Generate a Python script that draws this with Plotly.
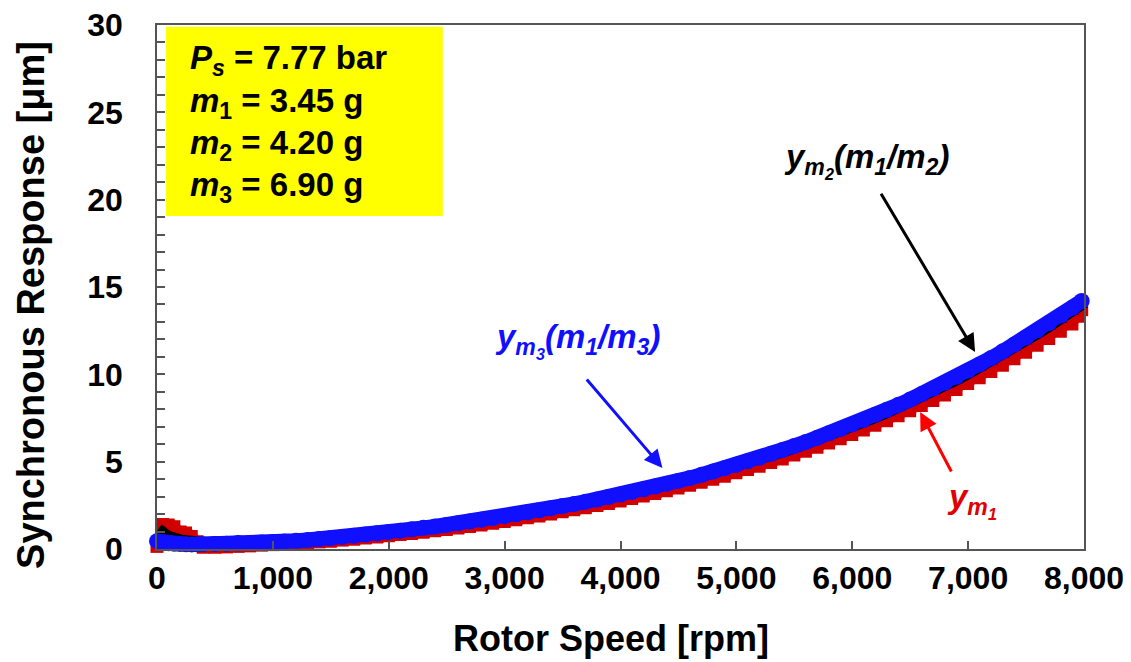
import plotly.graph_objects as go

# ---------------- data ----------------
speed = [0, 50, 100, 150, 200, 250, 300, 350, 400,
         500, 600, 700, 800, 900, 1000, 1100, 1200, 1300, 1400, 1500,
         1600, 1700, 1800, 1900, 2000, 2100, 2200, 2300, 2400, 2500,
         2600, 2700, 2800, 2900, 3000, 3100, 3200, 3300, 3400, 3500,
         3600, 3700, 3800, 3900, 4000, 4100, 4200, 4300, 4400, 4500,
         4600, 4700, 4800, 4900, 5000, 5100, 5200, 5300, 5400, 5500,
         5600, 5700, 5800, 5900, 6000, 6100, 6200, 6300, 6400, 6500,
         6600, 6700, 6800, 6900, 7000, 7100, 7200, 7300, 7400, 7500,
         7600, 7700, 7800, 7900, 7980]

y_m1 = [0.15, 1.4, 1.3, 1.0, 0.95, 0.75, 0.45, 0.2, 0.1,
        0.1, 0.12, 0.15, 0.18, 0.22, 0.25, 0.3, 0.33, 0.38, 0.42, 0.48,
        0.53, 0.6, 0.66, 0.73, 0.8, 0.86, 0.93, 1.01, 1.09, 1.17,
        1.26, 1.35, 1.45, 1.55, 1.65, 1.76, 1.86, 1.98, 2.1, 2.22,
        2.33, 2.46, 2.58, 2.72, 2.86, 3.0, 3.15, 3.3, 3.46, 3.62,
        3.79, 3.96, 4.14, 4.33, 4.52, 4.71, 4.92, 5.13, 5.35, 5.57,
        5.8, 6.04, 6.28, 6.53, 6.79, 7.05, 7.32, 7.6, 7.89, 8.18,
        8.48, 8.79, 9.11, 9.44, 9.78, 10.13, 10.49, 10.86, 11.24, 11.63,
        12.03, 12.44, 12.86, 13.29, 13.7]

y_m2_scaled = [0.5, 1.0, 0.75, 0.6, 0.55, 0.5, 0.45, 0.42, 0.4,
               0.45, 0.4, 0.5, 0.42, 0.5, 0.48, 0.5, 0.55, 0.6, 0.62, 0.7,
               0.75, 0.8, 0.88, 0.95, 1.05, 1.1, 1.2, 1.25, 1.35, 1.42,
               1.5, 1.6, 1.7, 1.8, 1.9, 2.0, 2.12, 2.22, 2.33, 2.45,
               2.56, 2.68, 2.8, 2.93, 3.07, 3.2, 3.35, 3.5, 3.66, 3.82,
               3.98, 4.15, 4.33, 4.52, 4.71, 4.9, 5.1, 5.31, 5.53, 5.75,
               5.98, 6.21, 6.46, 6.71, 6.96, 7.23, 7.5, 7.78, 8.07, 8.37,
               8.68, 8.99, 9.32, 9.65, 10.0, 10.36, 10.72, 11.1, 11.49, 11.88,
               12.29, 12.7, 13.13, 13.57, 13.95]

y_m3_scaled = [0.45, 0.38, 0.33, 0.3, 0.28, 0.27, 0.26, 0.26, 0.27,
               0.28, 0.3, 0.32, 0.34, 0.37, 0.4, 0.43, 0.47, 0.52, 0.57, 0.63,
               0.69, 0.76, 0.83, 0.9, 0.98, 1.05, 1.13, 1.21, 1.29, 1.38,
               1.47, 1.57, 1.67, 1.77, 1.88, 1.99, 2.1, 2.22, 2.34, 2.46,
               2.58, 2.71, 2.84, 2.98, 3.12, 3.27, 3.42, 3.58, 3.74, 3.9,
               4.07, 4.25, 4.43, 4.62, 4.82, 5.02, 5.23, 5.45, 5.67, 5.9,
               6.13, 6.37, 6.62, 6.87, 7.13, 7.4, 7.68, 7.97, 8.26, 8.56,
               8.87, 9.19, 9.52, 9.86, 10.21, 10.57, 10.94, 11.32, 11.71, 12.11,
               12.52, 12.94, 13.37, 13.81, 14.2]

x_ticks = [0, 1000, 2000, 3000, 4000, 5000, 6000, 7000, 8000]
x_tick_text = ["0", "1,000", "2,000", "3,000", "4,000", "5,000", "6,000", "7,000", "8,000"]
y_ticks = [0, 5, 10, 15, 20, 25, 30]

info_lines = [
    "<i>P<sub>s</sub></i> = 7.77 bar",
    "<i>m</i><sub>1</sub> = 3.45 g",
    "<i>m</i><sub>2</sub> = 4.20 g",
    "<i>m</i><sub>3</sub> = 6.90 g",
]

FONT = "Arial, 'Liberation Sans', sans-serif"
AX = "#555555"
RED = "#d00000"
BLUE = "#1010ff"

fig = go.Figure()
fig.add_trace(go.Scatter(x=speed, y=y_m1, mode="lines+markers", cliponaxis=False,
                         line=dict(color=RED, width=12, shape="hv"),
                         marker=dict(symbol="square", size=13, color=RED),
                         name="y_m1", showlegend=False))
fig.add_trace(go.Scatter(x=speed, y=y_m2_scaled, mode="lines+markers", cliponaxis=False,
                         line=dict(color="black", width=10),
                         marker=dict(symbol="triangle-up", size=11, color="black"),
                         name="y_m2", showlegend=False))
fig.add_trace(go.Scatter(x=speed, y=y_m3_scaled, mode="lines+markers", cliponaxis=False,
                         line=dict(color=BLUE, width=15),
                         marker=dict(symbol="circle", size=16, color=BLUE),
                         name="y_m3", showlegend=False))

# yellow info box
fig.add_shape(type="rect", xref="x", yref="y", x0=78, x1=2466, y0=19.06, y1=29.9,
              fillcolor="#ffff00", line=dict(width=0), layer="below")
line_y = [27.99, 25.54, 23.13, 20.72]
for txt, yy in zip(info_lines, line_y):
    fig.add_annotation(x=267, y=yy, xref="x", yref="y", text="<b>" + txt + "</b>",
                       showarrow=False, xanchor="left", yanchor="middle",
                       font=dict(family=FONT, size=33, color="black"))

# labels and arrows
fig.add_annotation(x=6121, y=22.27, xref="x", yref="y",
                   text="<b><i>y<sub>m<sub>2</sub></sub>(m<sub>1</sub>/m<sub>2</sub>)</i></b>",
                   showarrow=False, xanchor="center", yanchor="middle",
                   font=dict(family=FONT, size=33, color="black"))
fig.add_annotation(x=7060, y=11.28, ax=6241, ay=20.43, xref="x", yref="y",
                   axref="x", ayref="y", text="", showarrow=True,
                   arrowhead=2, arrowsize=1.2, arrowwidth=3, arrowcolor="black")

fig.add_annotation(x=3629, y=11.96, xref="x", yref="y",
                   text="<b><i>y<sub>m<sub>3</sub></sub>(m<sub>1</sub>/m<sub>3</sub>)</i></b>",
                   showarrow=False, xanchor="center", yanchor="middle",
                   font=dict(family=FONT, size=33, color=BLUE))
fig.add_annotation(x=4362, y=4.64, ax=3698, ay=9.79, xref="x", yref="y",
                   axref="x", ayref="y", text="", showarrow=True,
                   arrowhead=2, arrowsize=1.2, arrowwidth=3, arrowcolor=BLUE)

fig.add_annotation(x=7034, y=2.8, xref="x", yref="y",
                   text="<b><i>y<sub>m<sub>1</sub></sub></i></b>",
                   showarrow=False, xanchor="center", yanchor="middle",
                   font=dict(family=FONT, size=33, color="#e00000"))
fig.add_annotation(x=6586, y=7.84, ax=6862, ay=4.35, xref="x", yref="y",
                   axref="x", ayref="y", text="", showarrow=True,
                   arrowhead=2, arrowsize=1.2, arrowwidth=3, arrowcolor="#ff0000")

# axis titles
fig.add_annotation(x=0.4898, y=-0.170, xref="paper", yref="paper",
                   xanchor="center", yanchor="middle",
                   text="<b>Rotor Speed [rpm]</b>", showarrow=False,
                   font=dict(family=FONT, size=36, color="black"))
fig.add_annotation(x=-0.136, y=0.4656, xref="paper", yref="paper", textangle=-90,
                   xanchor="center", yanchor="middle",
                   text="<b>Synchronous Response [μm]</b>", showarrow=False,
                   font=dict(family=FONT, size=38, color="black"))

fig.update_xaxes(range=[0, 8000], tickvals=x_ticks, ticktext=x_tick_text,
                 ticks="inside", ticklen=8, tickwidth=1.5, tickcolor=AX,
                 showline=True, linecolor=AX, linewidth=1.5, mirror=True,
                 showgrid=False, zeroline=False, ticklabelstandoff=0, automargin=False,
                 ticklabeloverflow="allow",
                 tickfont=dict(family=FONT, size=32, color="black", weight="bold"))
fig.update_yaxes(range=[0, 30], tickvals=y_ticks,
                 ticks="inside", ticklen=8, tickwidth=1.5, tickcolor=AX,
                 minor=dict(dtick=1, ticks="inside", ticklen=8, tickwidth=1.5, tickcolor=AX),
                 showline=True, linecolor=AX, linewidth=1.5, mirror=True,
                 showgrid=False, zeroline=False, ticklabelstandoff=26, automargin=False,
                 ticklabeloverflow="allow",
                 tickfont=dict(family=FONT, size=32, color="black", weight="bold"))

fig.update_layout(width=1123, height=654, plot_bgcolor="white", paper_bgcolor="white",
                  margin=dict(l=149, r=47, t=17, b=113), showlegend=False)

fig.write_html("out.html")
